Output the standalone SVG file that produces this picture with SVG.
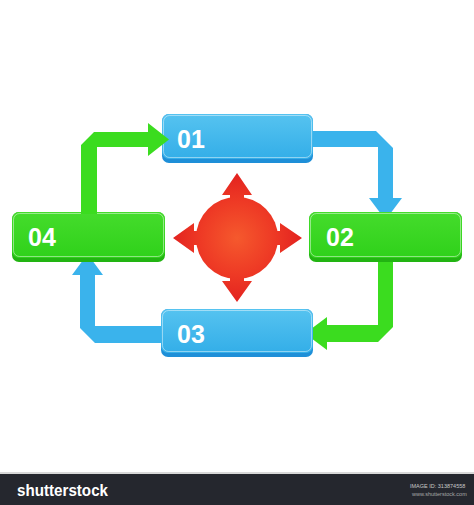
<svg xmlns="http://www.w3.org/2000/svg" width="474" height="505" viewBox="0 0 474 505">
  <defs>
    <linearGradient id="blueBox" x1="0" y1="0" x2="0" y2="1">
      <stop offset="0" stop-color="#56c3f0"/>
      <stop offset="1" stop-color="#33aee8"/>
    </linearGradient>
    <linearGradient id="greenBox" x1="0" y1="0" x2="0" y2="1">
      <stop offset="0" stop-color="#45dc2c"/>
      <stop offset="1" stop-color="#2fd11a"/>
    </linearGradient>
    <radialGradient id="redGrad" gradientUnits="userSpaceOnUse" cx="0" cy="0" r="66">
      <stop offset="0" stop-color="#f5592d"/>
      <stop offset="0.55" stop-color="#ee3a25"/>
      <stop offset="1" stop-color="#e2211f"/>
    </radialGradient>
  </defs>
  <style>
    .bshadow { fill: #1e8fd8; }
    .bface { fill: url(#blueBox); }
    .gshadow { fill: #22b412; }
    .gface { fill: url(#greenBox); }
    .hl { fill: none; stroke: #ffffff; stroke-opacity: 0.45; stroke-width: 1; }
    .lbl { font-family: "Liberation Sans", Arial, sans-serif; font-weight: bold; font-size: 25px; fill: #ffffff; }
    .bconn { fill: #3ab3ec; }
    .gconn { fill: #3bdc1f; }
  </style>
  <rect width="474" height="505" fill="#ffffff"/>

  <g id="connectors">
    <polygon class="bconn" points="308,131 376,131 393,148 393,198 402,198 385.5,220 369,198 378,198 378,147 308,147"/>
    <polygon class="gconn" points="378,258 393,258 393,327 378,342 327,342 327,350 305,333.5 327,317 327,325 378,325"/>
    <polygon class="bconn" points="164,326 95,326 95,275 103,275 87.5,254 72,275 80,275 80,328 95,343 164,343"/>
  </g>

  <g id="node-01">
    <rect class="bshadow" x="162" y="114" width="151" height="49" rx="7"/>
    <rect class="bface" x="162" y="114" width="151" height="45" rx="7"/>
    <rect class="hl" x="163.5" y="115.5" width="148" height="42" rx="6"/>
    <text class="lbl" x="177" y="148">01</text>
  </g>
  <g id="node-02">
    <rect class="gshadow" x="309" y="212" width="153" height="50" rx="7"/>
    <rect class="gface" x="309" y="212" width="153" height="46" rx="7"/>
    <rect class="hl" x="310.5" y="213.5" width="150" height="43" rx="6"/>
    <text class="lbl" x="326" y="246">02</text>
  </g>
  <g id="node-03">
    <rect class="bshadow" x="161" y="309" width="152" height="48" rx="7"/>
    <rect class="bface" x="161" y="309" width="152" height="44" rx="7"/>
    <rect class="hl" x="162.5" y="310.5" width="149" height="41" rx="6"/>
    <text class="lbl" x="177" y="343">03</text>
  </g>
  <g id="node-04">
    <rect class="gshadow" x="12" y="212" width="153" height="50" rx="7"/>
    <rect class="gface" x="12" y="212" width="153" height="46" rx="7"/>
    <rect class="hl" x="13.5" y="213.5" width="150" height="43" rx="6"/>
    <text class="lbl" x="28" y="246">04</text>
  </g>

  <g id="connectors-top">
    <polygon class="gconn" points="81,214 81,145 94,132 148,132 148,123 169,139.5 148,156 148,147 97,147 97,214"/>
  </g>

  <g id="center" transform="translate(237,238)">
    <circle cx="0" cy="0" r="41" fill="url(#redGrad)"/>
    <path id="arrowUp" d="M -7,-38 L -7,-43 L -15,-43 L 0,-65 L 15,-43 L 7,-43 L 7,-38 Z" fill="url(#redGrad)"/>
    <path d="M -7,-38 L -7,-43 L -15,-43 L 0,-65 L 15,-43 L 7,-43 L 7,-38 Z" fill="url(#redGrad)" transform="rotate(90)"/>
    <path d="M -7,-38 L -7,-43 L -15,-43 L 0,-64 L 15,-43 L 7,-43 L 7,-38 Z" fill="url(#redGrad)" transform="rotate(180)"/>
    <path d="M -7,-38 L -7,-43 L -15,-43 L 0,-64 L 15,-43 L 7,-43 L 7,-38 Z" fill="url(#redGrad)" transform="rotate(270)"/>
  </g>

  <g id="footer">
    <rect x="0" y="472" width="474" height="2" fill="#d8d8d8"/>
    <rect x="0" y="474" width="474" height="31" fill="#25272e"/>
    <text x="17" y="496" font-family="Liberation Sans, Arial, sans-serif" font-weight="bold" font-size="17" fill="#ffffff" textLength="91" lengthAdjust="spacingAndGlyphs">shutterstock</text>
    <text x="410" y="488" font-family="Liberation Sans, Arial, sans-serif" font-size="5.5" fill="#c8c8c8">IMAGE ID: 313874558</text>
    <text x="412" y="496" font-family="Liberation Sans, Arial, sans-serif" font-size="5.5" fill="#a8a8a8">www.shutterstock.com</text>
  </g>
</svg>
